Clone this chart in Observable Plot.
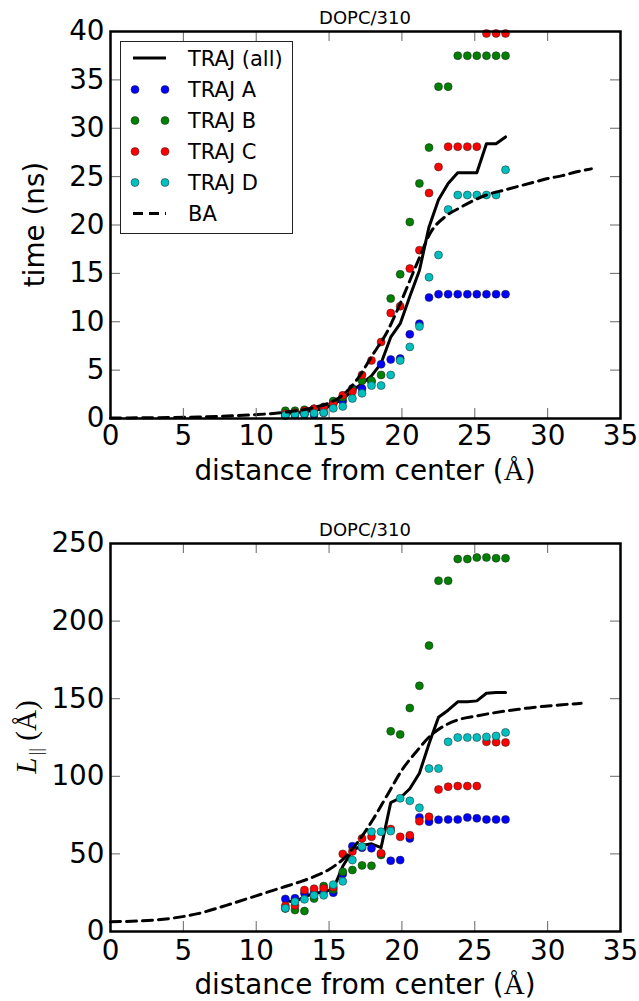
<!DOCTYPE html>
<html><head><meta charset="utf-8">
<script src="https://cdn.jsdelivr.net/npm/d3@7"></script>
<script src="https://cdn.jsdelivr.net/npm/@observablehq/plot@0.6"></script>
<style>body{margin:0;background:#fff} svg{display:block}</style>
</head><body><div id="c"></div>
<script>
// ---- data ----
const titleText = "DOPC/310";
const xLabel = "distance from center ";
const xticks = [0, 5, 10, 15, 20, 25, 30, 35];
const timeTicks = [0, 5, 10, 15, 20, 25, 30, 35, 40];
const lTicks = [0, 50, 100, 150, 200, 250];
const seriesNames = ["TRAJ A", "TRAJ B", "TRAJ C", "TRAJ D"];
const seriesColors = ["#0000ff", "#008000", "#ff0000", "#00bfbf"];

const xs = [12.0, 12.66, 13.31, 13.97, 14.63, 15.29, 15.94, 16.6, 17.26, 17.91, 18.57, 19.23,
            19.88, 20.54, 21.2, 21.86, 22.51, 23.17, 23.83, 24.49, 25.14, 25.8, 26.46, 27.11];

// top: time (ns)
const timeAll = [0.55, 0.6, 0.7, 0.85, 1.0, 1.5, 2.0, 2.9, 3.6, 4.4, 5.7, 8.4, 9.8, 12.6, 15.3, 19.8, 22.6, 24.3, 25.4, 25.4, 25.4, 28.4, 28.4, 29.1];
const timeA = [0.3, 0.35, 0.45, 0.4, 0.6, 1.65, 1.8, 3.1, 3.1, 3.8, 5.6, 6.1, 6.2, 8.7, 9.8, 12.5, 12.85, 12.85, 12.85, 12.85, 12.85, 12.85, 12.85, 12.85];
const timeB = [0.8, 0.8, 0.9, 1.0, 1.2, 1.8, 2.2, 3.0, 3.9, 3.9, 4.5, 12.4, 14.9, 20.3, 24.3, 28.0, 34.3, 34.3, 37.5, 37.5, 37.5, 37.5, 37.5, 37.5];
const timeC = [0.5, 0.6, 0.8, 1.0, 1.1, 1.5, 2.4, 2.8, 4.5, 6.0, 7.9, 10.9, 11.6, 15.5, 17.4, 23.3, 26.0, 28.1, 28.1, 28.1, 28.1, 39.8, 39.8, 39.8];
const timeD = [0.35, 0.45, 0.5, 0.55, 0.6, 1.05, 1.25, 2.07, 2.6, 3.4, 3.4, 4.5, 6.0, 7.4, 9.5, 14.6, 16.9, 21.6, 23.1, 23.1, 23.1, 23.1, 23.1, 25.7];
const baTimeX = [0, 2, 4, 6, 8, 10, 11, 12, 13, 14, 15, 16, 17, 18, 19, 20, 21, 22, 23, 24, 25, 26, 27, 28, 29, 30, 31, 32, 33];
const baTime = [0.05, 0.07, 0.1, 0.15, 0.25, 0.4, 0.5, 0.65, 0.85, 1.15, 1.6, 2.5, 4.2, 6.6, 9.0, 12.3, 15.9, 19.3, 20.9, 21.8, 22.6, 23.2, 23.6, 24.0, 24.4, 24.8, 25.1, 25.5, 25.8];

// bottom: L|| (Å)
const lAll = [20, 19, 22.5, 24.5, 25.5, 27.5, 42, 52, 55.5, 56.5, 54, 83, 86, 92, 102, 121, 138, 142.6, 148, 148, 148.6, 153.5, 154, 154];
const lA = [21, 21.4, 24.6, 25, 26, 25, 37, 55, 54, 53.6, 50, 45.6, 46, 60, 73.5, 70.7, 72, 72.2, 72.2, 73.5, 72.9, 72.2, 72.2, 72.2];
const lB = [14.8, 13.8, 13.2, 21.2, 29.3, 27, 38.5, 39.6, 42.6, 42.3, 49.3, 129, 127, 144, 158.3, 184.2, 226, 226, 240, 240, 241, 241, 240.5, 240.5];
const lC = [16.6, 16.8, 26.7, 27.6, 27.8, 28.5, 50, 51.6, 60, 61, 50.4, 66, 61, 62, 71, 74, 91.5, 93.3, 93.7, 93.7, 93.7, 122.2, 122, 121.8];
const lD = [15, 19.2, 20.7, 23.3, 23.3, 30.2, 32.3, 46, 54.8, 64.3, 64.3, 64.7, 85.8, 84.2, 79.7, 105, 105, 122.2, 125, 125, 125, 125.4, 126, 128.3];
const baLX = [0, 2, 4, 6, 8, 10, 12, 13, 14, 15, 16, 17, 18, 19, 20, 21, 22, 23, 24, 25, 26, 27, 28, 29, 30, 31, 32, 32.3];
const baL = [6.3, 6.8, 8.3, 11.5, 17, 23, 29, 32, 35.5, 40, 47, 58, 72, 88, 104, 116, 126.5, 133, 136.8, 138.7, 140.4, 141.9, 143.2, 144.4, 145.3, 146.1, 146.8, 147];

// ---- chart builder ----
const W = 639, ML = 110, MR = 19;
const FONT = "DejaVu Sans";
const DOT_R = 4;
const DASH = "10,6";
const zip = (a, b) => a.map((x, i) => ({x, y: b[i]}));

function chart({height, mt, mb, ydomain, yticks, all, series, baX, baY, xPad}) {
  const innerW = W - ML - MR, innerH = height - mt - mb;
  const marks = [
    Plot.line(zip(xs, all), {x: "x", y: "y", stroke: "black", strokeWidth: 3}),
    ...series.map((s, k) => Plot.dot(zip(xs, s), {x: "x", y: "y", r: DOT_R, fill: seriesColors[k], stroke: "#222", strokeWidth: 0.5})),
    Plot.line(zip(baX, baY), {x: "x", y: "y", stroke: "black", strokeWidth: 3, strokeDasharray: DASH, curve: "monotone-x"}),
    // inward ticks on all four sides
    Plot.tickX(xticks, {x: d => d, insetTop: innerH - 10, stroke: "#666", strokeWidth: 1}),
    Plot.tickX(xticks, {x: d => d, insetBottom: innerH - 10, stroke: "#666", strokeWidth: 1}),
    Plot.tickY(yticks, {y: d => d, insetRight: innerW - 10, stroke: "#666", strokeWidth: 1}),
    Plot.tickY(yticks, {y: d => d, insetLeft: innerW - 10, stroke: "#666", strokeWidth: 1}),
    Plot.axisX({ticks: xticks, tickSize: 0, tickPadding: xPad, fontSize: 27.8, fontFamily: FONT, label: null, tickFormat: d => String(d)}),
    Plot.axisY({ticks: yticks, tickSize: 0, tickPadding: 6, fontSize: 27.8, fontFamily: FONT, label: null, tickFormat: d => String(d)}),
    Plot.frame({stroke: "black", strokeWidth: 2.5})
  ];
  return Plot.plot({
    width: W, height, marginLeft: ML, marginRight: MR, marginTop: mt, marginBottom: mb,
    x: {domain: [0, 35]}, y: {domain: ydomain},
    style: {background: "white", color: "black", fontFamily: FONT, overflow: "visible"},
    marks
  });
}

const c = document.getElementById("c");

// ---- top ----
const p1 = chart({height: 500, mt: 31, mb: 82, ydomain: [0, 40], yticks: timeTicks, xPad: 7,
  all: timeAll, series: [timeA, timeB, timeC, timeD], baX: baTimeX, baY: baTime});
c.appendChild(p1);
// ---- bottom ----
const p2 = chart({height: 501, mt: 43, mb: 70, ydomain: [0, 250], yticks: lTicks, xPad: 9,
  all: lAll, series: [lA, lB, lC, lD], baX: baLX, baY: baL});
c.appendChild(p2);

const cx = (ML + (W - MR)) / 2;
function addTexts(svg, titleY, xlabY) {
  svg.append("text").attr("x", cx).attr("y", titleY).attr("text-anchor", "middle")
    .attr("font-family", FONT).attr("font-size", 18).attr("fill", "black").text(titleText);
  const t = svg.append("text").attr("x", cx).attr("y", xlabY).attr("text-anchor", "middle")
    .attr("font-family", FONT).attr("font-size", 27.8).attr("fill", "black");
  t.append("tspan").text(xLabel + "(");
  t.append("tspan").attr("font-family", "Liberation Serif").attr("font-size", 29).text("Å");
  t.append("tspan").text(")");
}
const s1 = d3.select(p1), s2 = d3.select(p2);
addTexts(s1, 24, 480);
addTexts(s2, 36, 494);

// y labels
s1.append("text").attr("transform", "translate(44,224.5) rotate(-90)").attr("text-anchor", "middle")
  .attr("font-family", FONT).attr("font-size", 27.8).attr("fill", "black").text("time (ns)");
const yl = s2.append("text").attr("transform", "translate(36,237) rotate(-90)").attr("text-anchor", "middle")
  .attr("font-family", "Liberation Serif").attr("font-size", 29).attr("fill", "black");
yl.append("tspan").attr("font-style", "italic").text("L");
yl.append("tspan").attr("font-size", 19).attr("dy", 6).attr("dx", 2).text("||");
yl.append("tspan").attr("dy", -6).text(" (Å)");

// legend (top chart)
const lg = s1.append("g");
lg.append("rect").attr("x", 120.5).attr("y", 41.5).attr("width", 172).attr("height", 192)
  .attr("fill", "white").attr("stroke", "#222").attr("stroke-width", 1);
const rowsY = [58, 89.5, 120.5, 151.5, 182.5, 213.5];
const labels = ["TRAJ (all)", ...seriesNames, "BA"];
labels.forEach((lab, i) => {
  const y = rowsY[i];
  if (i === 0 || i === 5) {
    lg.append("line").attr("x1", 133).attr("x2", 166).attr("y1", y).attr("y2", y)
      .attr("stroke", "black").attr("stroke-width", 3)
      .attr("stroke-dasharray", i === 5 ? DASH : null);
  } else {
    [135, 165].forEach(x => lg.append("circle").attr("cx", x).attr("cy", y).attr("r", DOT_R)
      .attr("fill", seriesColors[i - 1]).attr("stroke", "#222").attr("stroke-width", 0.5));
  }
  lg.append("text").attr("x", 188).attr("y", y).attr("dy", "0.36em").attr("text-anchor", "start")
    .attr("font-family", FONT).attr("font-size", 21).attr("fill", "black").text(lab);
});
</script></body></html>
